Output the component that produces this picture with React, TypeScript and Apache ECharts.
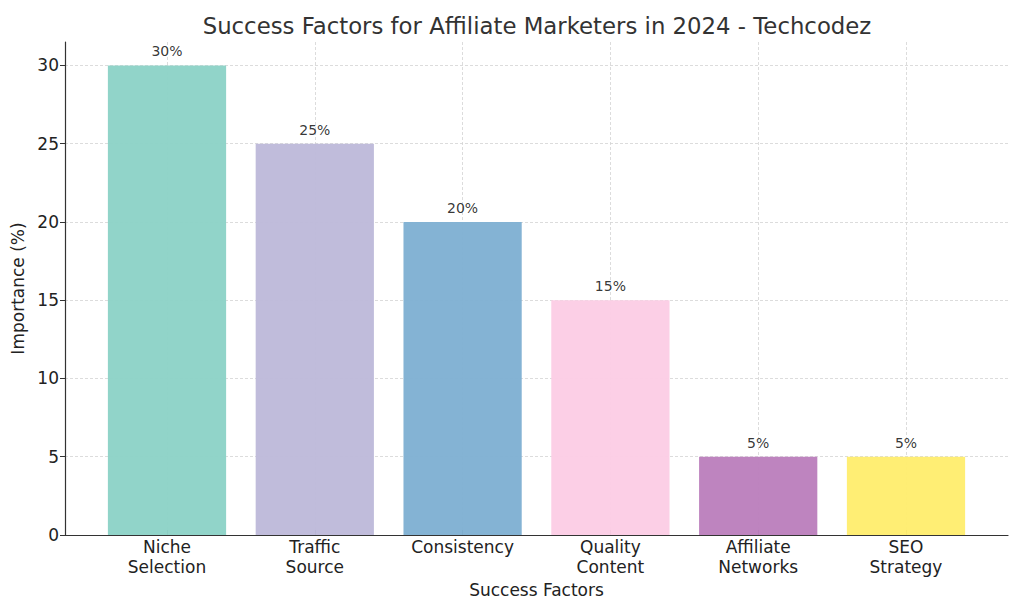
import React, { useEffect, useRef } from "react";
import * as echarts from "echarts";

const categories = [
  "Niche\nSelection",
  "Traffic\nSource",
  "Consistency",
  "Quality\nContent",
  "Affiliate\nNetworks",
  "SEO\nStrategy",
];
const values = [30, 25, 20, 15, 5, 5];
const barColors = ["#8dd3c7", "#bebada", "#80b1d3", "#fccde5", "#bc80bd", "#ffed6f"];
const yTicks = [0, 5, 10, 15, 20, 25, 30];

const FONT = "DejaVu Sans";

export default function App() {
  const ref = useRef<HTMLDivElement>(null);
  useEffect(() => {
    document.body.style.margin = "0";
    const chart = echarts.init(ref.current!, null, { renderer: "svg" });
    const grid = "#d3d3d3";
    chart.setOption({
      animation: false,
      backgroundColor: "#ffffff",
      textStyle: { fontFamily: FONT },
      title: {
        text: "Success Factors for Affiliate Marketers in 2024 - Techcodez",
        left: 532,
        top: 9,
        textAlign: "center",
        textStyle: { fontFamily: FONT, fontSize: 22.8, fontWeight: "normal", color: "#333333" },
      },
      grid: [
        { left: 65, right: 16, top: 42, bottom: 79 },
        { left: 167, right: 118, top: 42, bottom: 79 },
      ],
      xAxis: [
        {
          type: "value",
          gridIndex: 0,
          min: 0,
          max: 1,
          axisLine: { show: true, lineStyle: { color: "#333333", width: 1.2 } },
          axisTick: { show: false },
          axisLabel: { show: false },
          splitLine: { show: false },
          name: "Success Factors",
          nameLocation: "middle",
          nameGap: 46,
          nameTextStyle: { fontFamily: FONT, fontSize: 17, color: "#222222" },
        },
        {
          type: "category",
          gridIndex: 1,
          data: categories,
          boundaryGap: false,
          axisLine: { show: false },
          axisTick: { show: true, inside: true, length: 5, lineStyle: { color: "#333333", width: 1 } },
          axisLabel: { fontFamily: FONT, fontSize: 17, lineHeight: 20, color: "#222222", margin: 2, interval: 0 },
          splitLine: { show: true, lineStyle: { color: grid, type: [3, 2], width: 0.8 } },
        },
      ],
      yAxis: [
        {
          type: "value",
          gridIndex: 0,
          min: 0,
          max: 31.5,
          interval: 5,
          axisLine: { show: true, lineStyle: { color: "#333333", width: 1.2 } },
          axisTick: { show: true, length: 5, customValues: yTicks, lineStyle: { color: "#333333" } },
          axisLabel: { fontFamily: FONT, fontSize: 17, color: "#222222", margin: 6, customValues: yTicks },
          splitLine: {
            show: true,
            lineStyle: {
              color: [grid, grid, grid, grid, grid, grid, grid, "rgba(0,0,0,0)"],
              type: [3, 2],
              width: 0.8,
            },
          },
          name: "Importance (%)",
          nameLocation: "middle",
          nameRotate: 90,
          nameGap: 36,
          nameTextStyle: { fontFamily: FONT, fontSize: 17, color: "#222222" },
        },
        {
          type: "value",
          gridIndex: 1,
          min: 0,
          max: 31.5,
          show: false,
        },
      ],
      series: [
        {
          type: "bar",
          xAxisIndex: 1,
          yAxisIndex: 1,
          barWidth: "80%",
          clip: false,
          data: values.map((v, i) => ({
            value: v,
            itemStyle: { color: barColors[i], opacity: 0.97 },
          })),
          label: {
            show: true,
            position: "top",
            distance: 7,
            formatter: "{c}%",
            fontFamily: FONT,
            fontSize: 14,
            color: "#333333",
          },
        },
      ],
    });
    return () => chart.dispose();
  }, []);
  return <div ref={ref} style={{ width: 1024, height: 614 }} />;
}
